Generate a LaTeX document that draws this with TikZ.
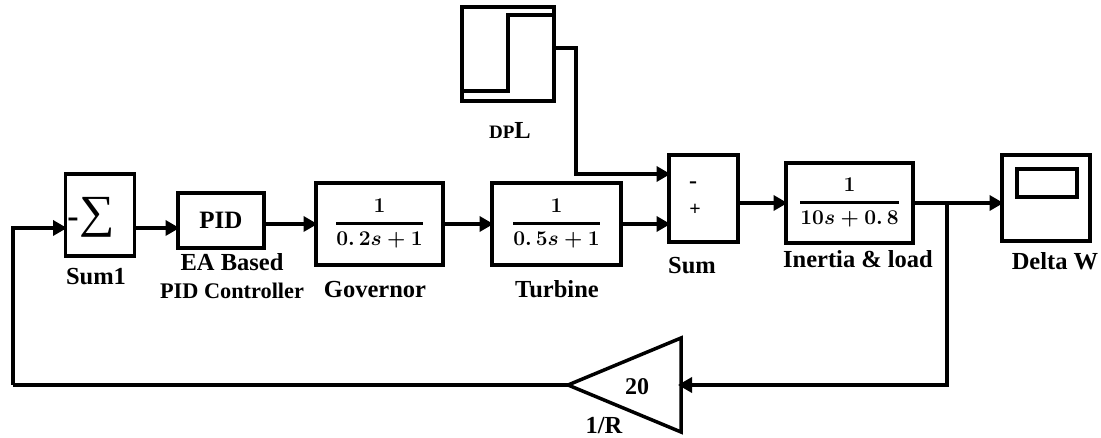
\documentclass[tikz,border=0pt]{standalone}
\usepackage{fix-cm}
\usepackage{amsmath}
\usepackage[no-math]{fontspec}
\setmainfont{Liberation Serif}
\usetikzlibrary{arrows.meta,shapes.geometric}
\newcommand{\lblsize}[1]{\fontsize{#1}{#1}\selectfont\bfseries}
\newcommand{\tfn}[2]{{\fontsize{21}{25}\selectfont\boldmath$\genfrac{}{}{2.6pt}{0}{#1}{#2}$}}
\tikzset{
  blk/.style={draw,line width=3.5pt,inner sep=0pt,outer sep=0pt},
  sig/.style={line width=3.5pt,line join=miter},
  sigarr/.style={sig,-{Triangle[length=14pt,width=15pt]},shorten >=-1.5pt},
  lbl/.style={inner sep=0pt,font=\lblsize{24.5}},
}
\begin{document}
\begin{tikzpicture}[x=1pt,y=-1pt]
  \useasboundingbox (0,0) rectangle (1101,438);

% blocks of the forward path
  \node[blk,minimum width=69pt,minimum height=82pt] (sumone) at (100,215) {};
  \node[blk,minimum width=86pt,minimum height=55pt,font=\lblsize{25}] (pid) at (221,220.5) {PID};
  \node[blk,minimum width=127pt,minimum height=82pt] (gov) at (379.5,224) {\tfn{1}{0.\,2s+1}};
  \node[blk,minimum width=129pt,minimum height=82pt] (turb) at (556.5,224) {\tfn{1}{0.\,5s+1}};
  \node[blk,minimum width=69pt,minimum height=87pt] (sumtwo) at (703.5,198.5) {};
  \node[blk,minimum width=127pt,minimum height=80pt] (inert) at (849.5,203) {\tfn{1}{10s+0.\,8}};

% step input
  \node[blk,minimum width=92pt,minimum height=94pt] (dpl) at (508,54) {};
  \draw[sig] (dpl.west |- 0,91) -- (508,91) -- (508,15) -- (dpl.east |- 0,15);

% scope
  \node[blk,minimum width=88pt,minimum height=86pt] (scope) at (1046,198) {};
  \node[blk,minimum width=60pt,minimum height=28pt] (screen) at (1047,183) {};

% gain, points left
  \node[blk,isosceles triangle,isosceles triangle apex angle=45,isosceles triangle stretches,
    shape border rotate=180,minimum height=113pt,minimum width=94pt,anchor=apex] (gain) at (568,385) {};

% signs inside the summers
  \node[lbl,font=\lblsize{34}] (sumoneminus) at (73,223) {-};
  \node[inner sep=0pt,font=\fontsize{46}{46}\selectfont,xscale=1.08] (sigma) at (97,217) {∑};
  \node[lbl,font=\lblsize{24}] (summinus) at (693,185) {-};
  \node[lbl,font=\lblsize{20}] (sumplus) at (695,210) {+};

% labels
  \node[lbl] (sumonelbl) at (96,277) {Sum1};
  \node[lbl] (ealbl) at (232,262) {EA Based};
  \node[lbl,font=\lblsize{22.3}] (pidlbl) at (232,291) {PID Controller};
  \node[lbl] (govlbl) at (375,290) {Governor};
  \node[lbl] (turblbl) at (557,289) {Turbine};
  \node[lbl] (sumlbl) at (692,266) {Sum};
  \node[lbl] (inertlbl) at (858,259) {Inertia \& load};
  \node[lbl] (scopelbl) at (1055,261) {Delta W};
  \node[lbl] (dpllbl) at (510,130) {{\lblsize{19}DP}L};
  \node[lbl,font=\lblsize{24}] (gainval) at (637,387) {20};
  \node[lbl] (gainlbl) at (604,426) {1/R};

% helper points for the lines
  \coordinate (fbtop) at (13,228);
  \coordinate (fbbot) at (13,385);
  \coordinate (branch) at (947,203);
  \coordinate (stepdrop) at (576,48);
  \coordinate (stepin) at (576,174);

% connections
  \draw[sigarr] (fbbot) -- (fbtop) -- (sumone.west |- fbtop);
  \draw[sigarr] (sumone.east |- fbtop) -- (pid.west |- fbtop);
  \draw[sigarr] (pid.east |- gov.west) -- (gov.west);
  \draw[sigarr] (gov.east) -- (turb.west);
  \draw[sigarr] (turb.east) -- (sumtwo.west |- turb.east);
  \draw[sigarr] (dpl.east |- stepdrop) -- (stepdrop) -- (stepin) -- (sumtwo.west |- stepin);
  \draw[sigarr] (sumtwo.east |- inert.west) -- (inert.west);
  \draw[sigarr] (inert.east) -- (scope.west |- inert.east);
  \draw[sigarr,shorten >=-3pt] (branch) -- (branch |- fbbot) -- (gain.right corner |- fbbot);
  \draw[sig] (gain.apex) -- (fbbot);
\end{tikzpicture}
\end{document}
